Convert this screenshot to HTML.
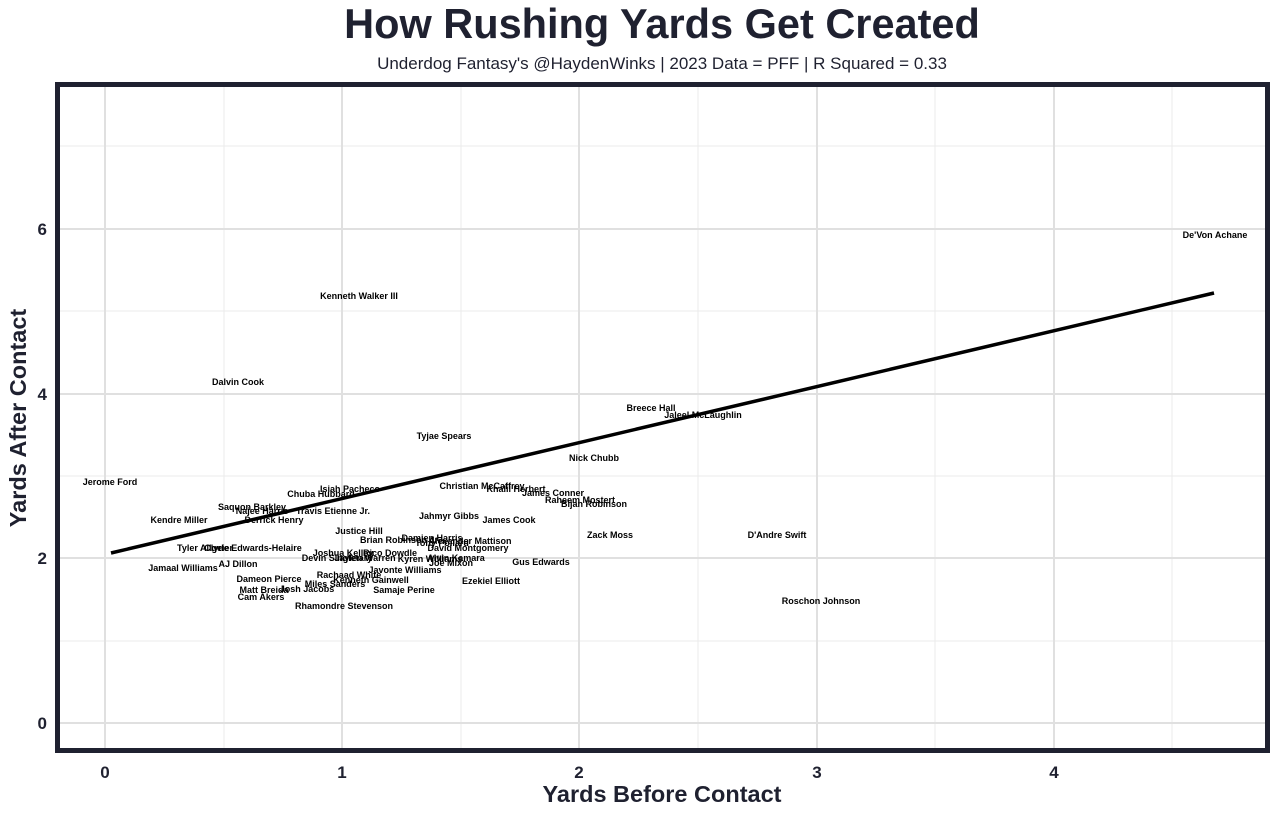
<!DOCTYPE html>
<html><head><meta charset="utf-8"><style>body{margin:0;background:#fff}</style></head><body>
<svg width="1280" height="816" xmlns="http://www.w3.org/2000/svg" font-family="Liberation Sans, Arial, sans-serif">
<rect width="1280" height="816" fill="#fff"/>
<text x="662" y="38" text-anchor="middle" font-size="41.5" font-weight="bold" fill="#1f2130">How Rushing Yards Get Created</text>
<text x="662" y="69" text-anchor="middle" font-size="17" fill="#1f2130">Underdog Fantasy's @HaydenWinks | 2023 Data = PFF | R Squared = 0.33</text>
<g stroke="#ebebeb" stroke-width="1">
<line x1="224" y1="86" x2="224" y2="750"/><line x1="461" y1="86" x2="461" y2="750"/><line x1="698" y1="86" x2="698" y2="750"/><line x1="935" y1="86" x2="935" y2="750"/><line x1="1172" y1="86" x2="1172" y2="750"/>
<line x1="57" y1="641" x2="1268" y2="641"/><line x1="57" y1="476" x2="1268" y2="476"/><line x1="57" y1="311" x2="1268" y2="311"/><line x1="57" y1="146" x2="1268" y2="146"/>
</g>
<g stroke="#e0e0e0" stroke-width="2">
<line x1="105" y1="86" x2="105" y2="750"/><line x1="342" y1="86" x2="342" y2="750"/><line x1="579" y1="86" x2="579" y2="750"/><line x1="817" y1="86" x2="817" y2="750"/><line x1="1054" y1="86" x2="1054" y2="750"/>
<line x1="57" y1="723" x2="1268" y2="723"/><line x1="57" y1="558" x2="1268" y2="558"/><line x1="57" y1="394" x2="1268" y2="394"/><line x1="57" y1="229" x2="1268" y2="229"/>
</g>
<line x1="111" y1="553" x2="1214" y2="293" stroke="#000" stroke-width="3.5"/>
<g font-size="9" font-weight="bold" fill="#000" text-anchor="middle">
<text x="1215" y="238">De'Von Achane</text>
<text x="359" y="299">Kenneth Walker III</text>
<text x="238" y="385">Dalvin Cook</text>
<text x="651" y="411">Breece Hall</text>
<text x="703" y="418">Jaleel McLaughlin</text>
<text x="444" y="439">Tyjae Spears</text>
<text x="594" y="461">Nick Chubb</text>
<text x="110" y="485">Jerome Ford</text>
<text x="482" y="489">Christian McCaffrey</text>
<text x="516" y="492">Khalil Herbert</text>
<text x="350" y="492">Isiah Pacheco</text>
<text x="321" y="497">Chuba Hubbard</text>
<text x="553" y="496">James Conner</text>
<text x="580" y="503">Raheem Mostert</text>
<text x="594" y="507">Bijan Robinson</text>
<text x="252" y="510">Saquon Barkley</text>
<text x="262" y="514">Najee Harris</text>
<text x="333" y="514">Travis Etienne Jr.</text>
<text x="449" y="519">Jahmyr Gibbs</text>
<text x="509" y="523">James Cook</text>
<text x="179" y="523">Kendre Miller</text>
<text x="274" y="523">Derrick Henry</text>
<text x="359" y="534">Justice Hill</text>
<text x="610" y="538">Zack Moss</text>
<text x="777" y="538">D'Andre Swift</text>
<text x="432" y="541">Damien Harris</text>
<text x="400" y="543">Brian Robinson Jr.</text>
<text x="470" y="544">Alexander Mattison</text>
<text x="442" y="546">Tony Pollard</text>
<text x="205" y="551">Tyler Allgeier</text>
<text x="253" y="551">Clyde Edwards-Helaire</text>
<text x="468" y="551">David Montgomery</text>
<text x="343" y="556">Joshua Kelley</text>
<text x="390" y="556">Rico Dowdle</text>
<text x="337" y="561">Devin Singletary</text>
<text x="365" y="561">Jaylen Warren</text>
<text x="430" y="562">Kyren Williams</text>
<text x="456" y="561">Alvin Kamara</text>
<text x="541" y="565">Gus Edwards</text>
<text x="451" y="566">Joe Mixon</text>
<text x="238" y="567">AJ Dillon</text>
<text x="183" y="571">Jamaal Williams</text>
<text x="405" y="573">Javonte Williams</text>
<text x="349" y="578">Rachaad White</text>
<text x="269" y="582">Dameon Pierce</text>
<text x="371" y="583">Kenneth Gainwell</text>
<text x="491" y="584">Ezekiel Elliott</text>
<text x="335" y="587">Miles Sanders</text>
<text x="307" y="592">Josh Jacobs</text>
<text x="264" y="593">Matt Breida</text>
<text x="404" y="593">Samaje Perine</text>
<text x="261" y="600">Cam Akers</text>
<text x="821" y="604">Roschon Johnson</text>
<text x="344" y="609">Rhamondre Stevenson</text>
</g>
<rect x="57.5" y="84.5" width="1210" height="666" fill="none" stroke="#1f2130" stroke-width="5"/>
<g font-size="17" font-weight="bold" fill="#1f2130">
<g text-anchor="end"><text x="47" y="729">0</text><text x="47" y="564">2</text><text x="47" y="400">4</text><text x="47" y="235">6</text></g>
<g text-anchor="middle"><text x="105" y="778">0</text><text x="342" y="778">1</text><text x="579" y="778">2</text><text x="817" y="778">3</text><text x="1054" y="778">4</text></g>
</g>
<text x="662" y="802" text-anchor="middle" font-size="23.5" font-weight="bold" fill="#1f2130">Yards Before Contact</text>
<text transform="translate(26,418) rotate(-90)" text-anchor="middle" font-size="23.5" font-weight="bold" fill="#1f2130">Yards After Contact</text>
</svg>
</body></html>
